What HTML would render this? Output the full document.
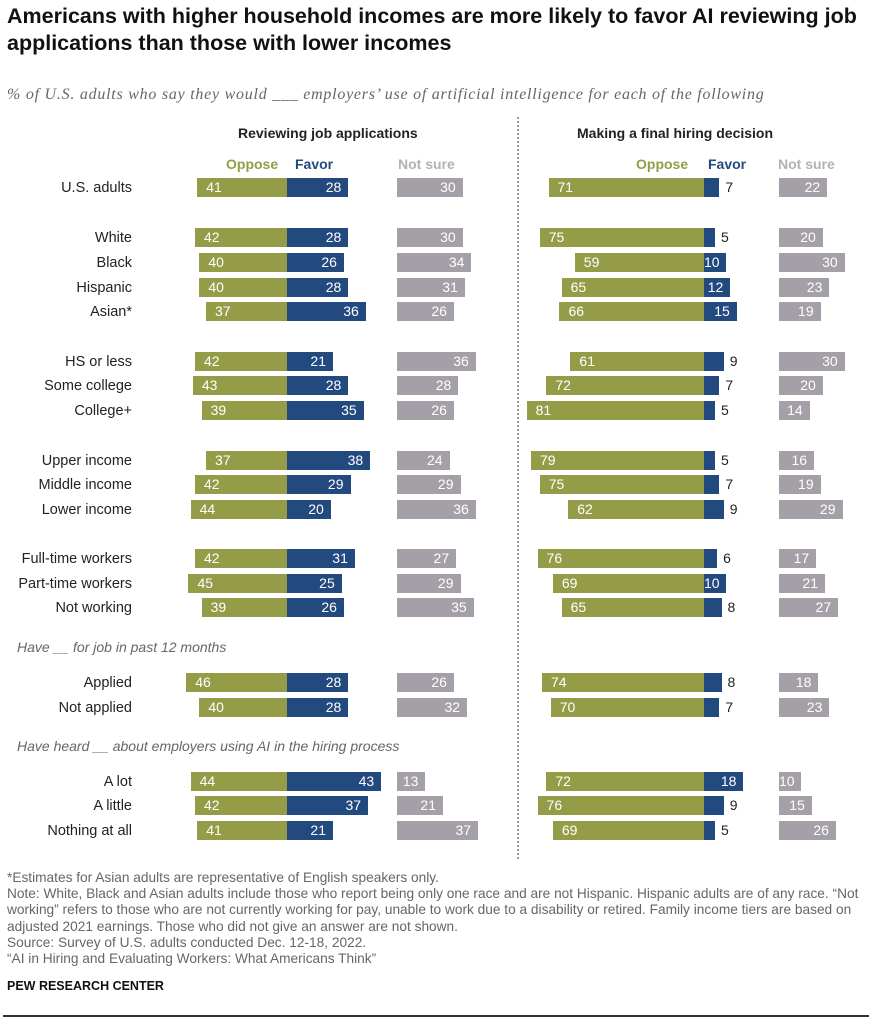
<!DOCTYPE html>
<html><head><meta charset="utf-8"><style>
body{margin:0;width:875px;height:1023px;background:#fff;position:relative;overflow:hidden;font-family:"Liberation Sans",sans-serif;color:#222}
.a{position:absolute;white-space:nowrap}
.b{position:absolute;height:19px;color:#fff;font-size:14px;line-height:19px;box-sizing:border-box}
.o{background:#959c48;padding-left:9px}
.f{background:#234a7f;text-align:right;padding-right:7px}
.n{background:#a59fa8;text-align:right;padding-right:7px}
.lab{position:absolute;width:200px;left:-68px;text-align:right;font-size:14.5px;line-height:19px}
.out{position:absolute;font-size:14px;line-height:19px;color:#222}
</style></head><body>
<div class="a" style="left:7px;top:3px;font-size:21.5px;font-weight:bold;line-height:27px;color:#111">Americans with higher household incomes are more likely to favor AI reviewing job<br>applications than those with lower incomes</div>
<div class="a" style="left:7px;top:86px;font-size:16px;letter-spacing:0.75px;font-style:italic;color:#666;font-family:'Liberation Serif',serif">% of U.S. adults who say they would ___ employers’ use of artificial intelligence for each of the following</div>
<div class="a" style="left:238px;top:125px;font-size:14px;font-weight:bold">Reviewing job applications</div>
<div class="a" style="left:577px;top:125px;font-size:14px;font-weight:bold">Making a final hiring decision</div>
<div class="a" style="left:226px;top:156px;font-size:14px;font-weight:bold;color:#959c48">Oppose</div>
<div class="a" style="left:295px;top:156px;font-size:14px;font-weight:bold;color:#234a7f">Favor</div>
<div class="a" style="left:398px;top:156px;font-size:14px;font-weight:bold;color:#b5b0b8">Not sure</div>
<div class="a" style="left:636px;top:156px;font-size:14px;font-weight:bold;color:#959c48">Oppose</div>
<div class="a" style="left:708px;top:156px;font-size:14px;font-weight:bold;color:#234a7f">Favor</div>
<div class="a" style="left:778px;top:156px;font-size:14px;font-weight:bold;color:#b5b0b8">Not sure</div>
<div class="a" style="left:517px;top:117px;height:742px;border-left:2px dotted #999"></div>
<div class="a" style="left:17px;top:639px;font-size:14px;font-style:italic;color:#666">Have __ for job in past 12 months</div>
<div class="a" style="left:17px;top:738px;font-size:14px;font-style:italic;color:#666">Have heard __ about employers using AI in the hiring process</div>
<div id="rows"></div>
<div class="a" style="left:7px;top:870px;font-size:13.7px;line-height:16.2px;color:#666">*Estimates for Asian adults are representative of English speakers only.<br>Note: White, Black and Asian adults include those who report being only one race and are not Hispanic. Hispanic adults are of any race. “Not<br>working” refers to those who are not currently working for pay, unable to work due to a disability or retired. Family income tiers are based on<br>adjusted 2021 earnings. Those who did not give an answer are not shown.<br>Source: Survey of U.S. adults conducted Dec. 12-18, 2022.<br>“AI in Hiring and Evaluating Workers: What Americans Think”</div>
<div class="a" style="left:7px;top:979px;font-size:12.5px;font-weight:bold;color:#111">PEW RESEARCH CENTER</div>
<div class="a" style="left:3px;top:1015px;width:866px;height:2px;background:#333"></div>
<script>
var d=[["U.S. adults",188,41,28,30,71,7,22],["White",238,42,28,30,75,5,20],["Black",263,40,26,34,59,10,30],["Hispanic",288,40,28,31,65,12,23],["Asian*",312,37,36,26,66,15,19],["HS or less",362,42,21,36,61,9,30],["Some college",386,43,28,28,72,7,20],["College+",411,39,35,26,81,5,14],["Upper income",461,37,38,24,79,5,16],["Middle income",485,42,29,29,75,7,19],["Lower income",510,44,20,36,62,9,29],["Full-time workers",559,42,31,27,76,6,17],["Part-time workers",584,45,25,29,69,10,21],["Not working",608,39,26,35,65,8,27],["Applied",683,46,28,26,74,8,18],["Not applied",708,40,28,32,70,7,23],["A lot",782,44,43,13,72,18,10],["A little",806,42,37,21,76,9,15],["Nothing at all",831,41,21,37,69,5,26]];
var s=2.19,h="";
d.forEach(function(r){var t=r[1]-10;
h+='<div class="lab" style="top:'+(t+1)+'px">'+r[0]+'</div>';
function bar(c,x,w,v){return '<div class="b '+c+'" style="left:'+x+'px;top:'+t+'px;width:'+w+'px">'+v+'</div>';}
var w;
w=r[2]*s;h+=bar("o",287-w,w,r[2]);
h+=bar("f",287,r[3]*s,r[3]);
h+=bar("n",397,r[4]*s,r[4]);
w=r[5]*s;h+=bar("o",704-w,w,r[5]);
if(r[6]>=10)h+=bar("f",704,r[6]*s,r[6]);
else{h+='<div class="b f" style="left:704px;top:'+t+'px;width:'+(r[6]*s)+'px"></div><div class="out" style="left:'+(704+r[6]*s+6)+'px;top:'+t+'px">'+r[6]+'</div>';}
h+=bar("n",779,r[7]*s,r[7]);});
document.getElementById("rows").innerHTML=h;
</script>
</body></html>
